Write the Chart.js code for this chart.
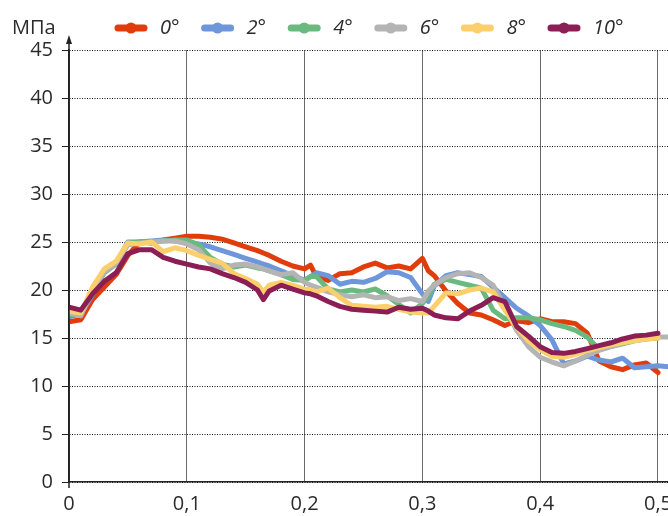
<!DOCTYPE html>
<html>
<head>
<meta charset="utf-8">
<script src="https://cdn.jsdelivr.net/npm/chart.js@4"></script>
<style>
  html, body { margin: 0; padding: 0; background: #fff; overflow: hidden; }
  #wrap { width: 668px; height: 516px; position: relative; }
</style>
</head>
<body>
<div id="wrap"><canvas id="stressChart"></canvas></div>
<script>
// strain (x), with a few extra half-steps where the curves have sharp kinks
const strain = [
  0, 0.01, 0.02, 0.03, 0.04, 0.05, 0.06, 0.07, 0.08, 0.09,
  0.10, 0.11, 0.12, 0.13, 0.14, 0.15, 0.16, 0.165, 0.17, 0.18, 0.19,
  0.20, 0.205, 0.21, 0.22, 0.23, 0.24, 0.25, 0.26, 0.27, 0.28, 0.29,
  0.30, 0.305, 0.31, 0.32, 0.33, 0.34, 0.35, 0.36, 0.37, 0.38, 0.39,
  0.40, 0.41, 0.42, 0.43, 0.44, 0.45, 0.46, 0.47, 0.48, 0.49, 0.50, 0.51
];

// stress, MPa
const stress0 = [
  16.7, 16.9, 19.0, 20.3, 21.6, 23.6, 25.0, 24.9, 25.2, 25.4,
  25.6, 25.6, 25.5, 25.3, 24.9, 24.5, 24.1, 23.85, 23.6, 23.0, 22.5,
  22.2, 22.6, 21.4, 21.0, 21.7, 21.8, 22.4, 22.8, 22.3, 22.5, 22.2,
  23.3, 22.0, 21.5, 19.9, 18.6, 17.6, 17.4, 16.9, 16.3, 16.8, 16.6,
  17.0, 16.7, 16.7, 16.5, 15.5, 12.6, 12.0, 11.7, 12.2, 12.4, 11.4, null
];
const stress2 = [
  17.2, 17.5, 19.5, 22.0, 22.8, 25.0, 25.0, 25.1, 25.2, 25.1,
  25.0, 24.8, 24.5, 24.1, 23.7, 23.3, 22.9, 22.7, 22.5, 22.0, 21.5,
  21.0, 21.4, 21.8, 21.5, 20.6, 20.9, 20.8, 21.2, 21.9, 21.8, 21.3,
  19.6, 18.8, 20.4, 21.5, 21.8, 21.6, 21.4, 20.3, 19.2, 18.1, 17.3,
  16.3, 14.8, 12.3, 12.6, 13.1, 12.7, 12.5, 12.9, 11.9, 12.0, 12.1, 12.0
];
const stress4 = [
  17.4, 17.6, 19.8, 21.8, 22.7, 24.9, 25.0, 25.0, 25.1, 25.2,
  25.2, 24.7, 23.4, 22.7, 22.4, 22.6, 22.3, 22.2, 22.0, 21.6, 21.1,
  21.0, 21.4, 21.4, 20.1, 19.8, 20.0, 19.8, 20.1, 19.4, 18.5, 17.6,
  18.6, 19.4, 20.6, 21.1, 20.8, 20.5, 20.2, 17.9, 17.0, 17.1, 17.1,
  16.9, 16.5, 16.2, 15.8, 15.1, 13.8, 14.1, 14.4, 14.7, 14.9, 15.0, null
];
const stress6 = [
  17.6, 17.3, 20.0, 21.9, 22.8, 24.7, 24.9, 25.0, 25.1, 25.1,
  24.8, 24.2, 22.8, 22.2, 22.6, 22.7, 22.4, 22.2, 22.0, 21.6, 21.8,
  20.8, 20.5, 20.3, 19.8, 19.5, 19.3, 19.5, 19.2, 19.3, 18.9, 19.1,
  18.8, 19.9, 20.5, 21.3, 21.7, 21.8, 21.3, 20.5, 18.2, 15.8, 14.1,
  13.0, 12.5, 12.1, 12.6, 13.2, 13.7, 14.1, 14.5, 14.8, 15.0, 15.1, 15.1
];
const stress8 = [
  17.8, 17.6, 20.3, 22.2, 23.0, 24.9, 24.8, 25.0, 24.0, 24.4,
  24.1, 23.6, 23.2, 22.8, 21.7, 21.2, 20.6, 19.8, 20.5, 20.8, 20.5,
  20.1, 20.0, 19.8, 20.2, 19.2, 18.4, 18.3, 18.2, 18.3, 18.0, 17.7,
  17.6, 17.6, 18.3, 19.7, 19.6, 20.0, 20.2, 19.8, 17.9, 16.1, 14.7,
  13.8, 13.1, 13.0, 13.3, 13.7, 14.0, 14.3, 14.5, 14.7, 14.9, 15.0, null
];
const stress10 = [
  18.2, 17.9, 19.6, 20.9, 21.8, 23.8, 24.2, 24.2, 23.4, 23.0,
  22.7, 22.4, 22.2, 21.7, 21.3, 20.8, 20.0, 19.0, 19.9, 20.5, 20.1,
  19.7, 19.6, 19.4, 18.8, 18.3, 18.0, 17.9, 17.8, 17.7, 18.2, 18.0,
  18.1, 17.8, 17.4, 17.1, 17.0, 17.8, 18.4, 19.2, 18.8, 16.2, 15.2,
  14.1, 13.5, 13.4, 13.6, 13.9, 14.2, 14.5, 14.9, 15.2, 15.3, 15.5, null
];

const angleLabels = ['0°', '2°', '4°', '6°', '8°', '10°'];
const stressSeries = [stress0, stress2, stress4, stress6, stress8, stress10];
const seriesColors = ['#e03c0c', '#6e96da', '#6ab97f', '#b4b4b4', '#fbcf6c', '#8b1e55'];

const FONT = '"Liberation Sans Narrow", "Open Sans", sans-serif';
const TEXT = '#2b2b2b';

const decorations = {
    id: 'decorations',
    afterDraw(chart) {
        const ctx = chart.ctx;
        const area = chart.chartArea;
        ctx.save();

        // y axis extension with arrow, and a little tail below the x axis
        ctx.strokeStyle = '#222';
        ctx.lineWidth = 1.5;
        ctx.beginPath();
        ctx.moveTo(area.left, area.bottom + 6);
        ctx.lineTo(area.left, area.top - 8);
        ctx.stroke();
        ctx.fillStyle = '#222';
        ctx.beginPath();
        ctx.moveTo(area.left, area.top - 15);
        ctx.lineTo(area.left - 3, area.top - 6);
        ctx.lineTo(area.left + 3, area.top - 6);
        ctx.closePath();
        ctx.fill();

        // unit label
        ctx.fillStyle = TEXT;
        ctx.font = '20px ' + FONT;
        ctx.textAlign = 'left';
        ctx.textBaseline = 'middle';
        ctx.fillText('МПа', 12, 28);

        // legend: thick line with a dot, italic label
        chart.data.datasets.forEach((ds, i) => {
            const x0 = 115 + i * 86.6;
            const y0 = 28;
            ctx.strokeStyle = ds.borderColor;
            ctx.lineWidth = 7;
            ctx.lineCap = 'round';
            ctx.beginPath();
            ctx.moveTo(x0 + 3, y0);
            ctx.lineTo(x0 + 29, y0);
            ctx.stroke();
            ctx.fillStyle = ds.borderColor;
            ctx.beginPath();
            ctx.arc(x0 + 16, y0, 5.5, 0, Math.PI * 2);
            ctx.fill();
            ctx.fillStyle = TEXT;
            ctx.font = 'italic 20px ' + FONT;
            ctx.fillText(ds.label, x0 + 45, y0);
        });
        ctx.restore();
    }
};

const datasets = stressSeries.map((values, i) => ({
    label: angleLabels[i],
    data: strain.map((x, j) => ({ x: x, y: values[j] })),
    borderColor: seriesColors[i],
    backgroundColor: seriesColors[i],
    borderWidth: 5,
    pointRadius: 0,
    tension: 0,
    borderJoinStyle: 'round',
    borderCapStyle: 'round',
    fill: false,
    order: angleLabels.length - 1 - i
}));

new Chart(document.getElementById('stressChart').getContext('2d'), {
    type: 'line',
    data: { datasets: datasets },
    options: {
        responsive: true,
        maintainAspectRatio: false,
        animation: false,
        layout: { padding: { top: 50, left: 0, right: 0, bottom: 0 } },
        plugins: {
            legend: { display: false },
            tooltip: { enabled: false }
        },
        scales: {
            x: {
                type: 'linear',
                min: 0,
                max: 0.5085,
                ticks: {
                    stepSize: 0.1,
                    includeBounds: false,
                    autoSkip: false,
                    maxRotation: 0,
                    padding: 10,
                    color: TEXT,
                    font: { family: FONT, size: 20 },
                    callback: function(value) {
                        return value === 0 ? '0' : value.toFixed(1).replace('.', ',');
                    }
                },
                grid: { color: '#6a6a6a', lineWidth: 1, drawTicks: false },
                border: { color: '#222', width: 1.5 },
                afterFit: function(scale) {
                    scale.height = 34;
                    scale.paddingLeft = 0;
                    scale.paddingRight = 0;
                }
            },
            y: {
                min: 0,
                max: 45,
                ticks: {
                    stepSize: 5,
                    padding: 9,
                    color: TEXT,
                    font: { family: FONT, size: 20 }
                },
                grid: { color: '#111', lineWidth: 1, tickLength: 7, tickColor: '#222', tickBorderDash: [] },
                border: { color: '#222', width: 1.5, dash: [1, 1.5] },
                afterFit: function(scale) {
                    scale.width = 69;
                    scale.paddingTop = 0;
                    scale.paddingBottom = 0;
                }
            }
        }
    },
    plugins: [decorations]
});
</script>
</body>
</html>
